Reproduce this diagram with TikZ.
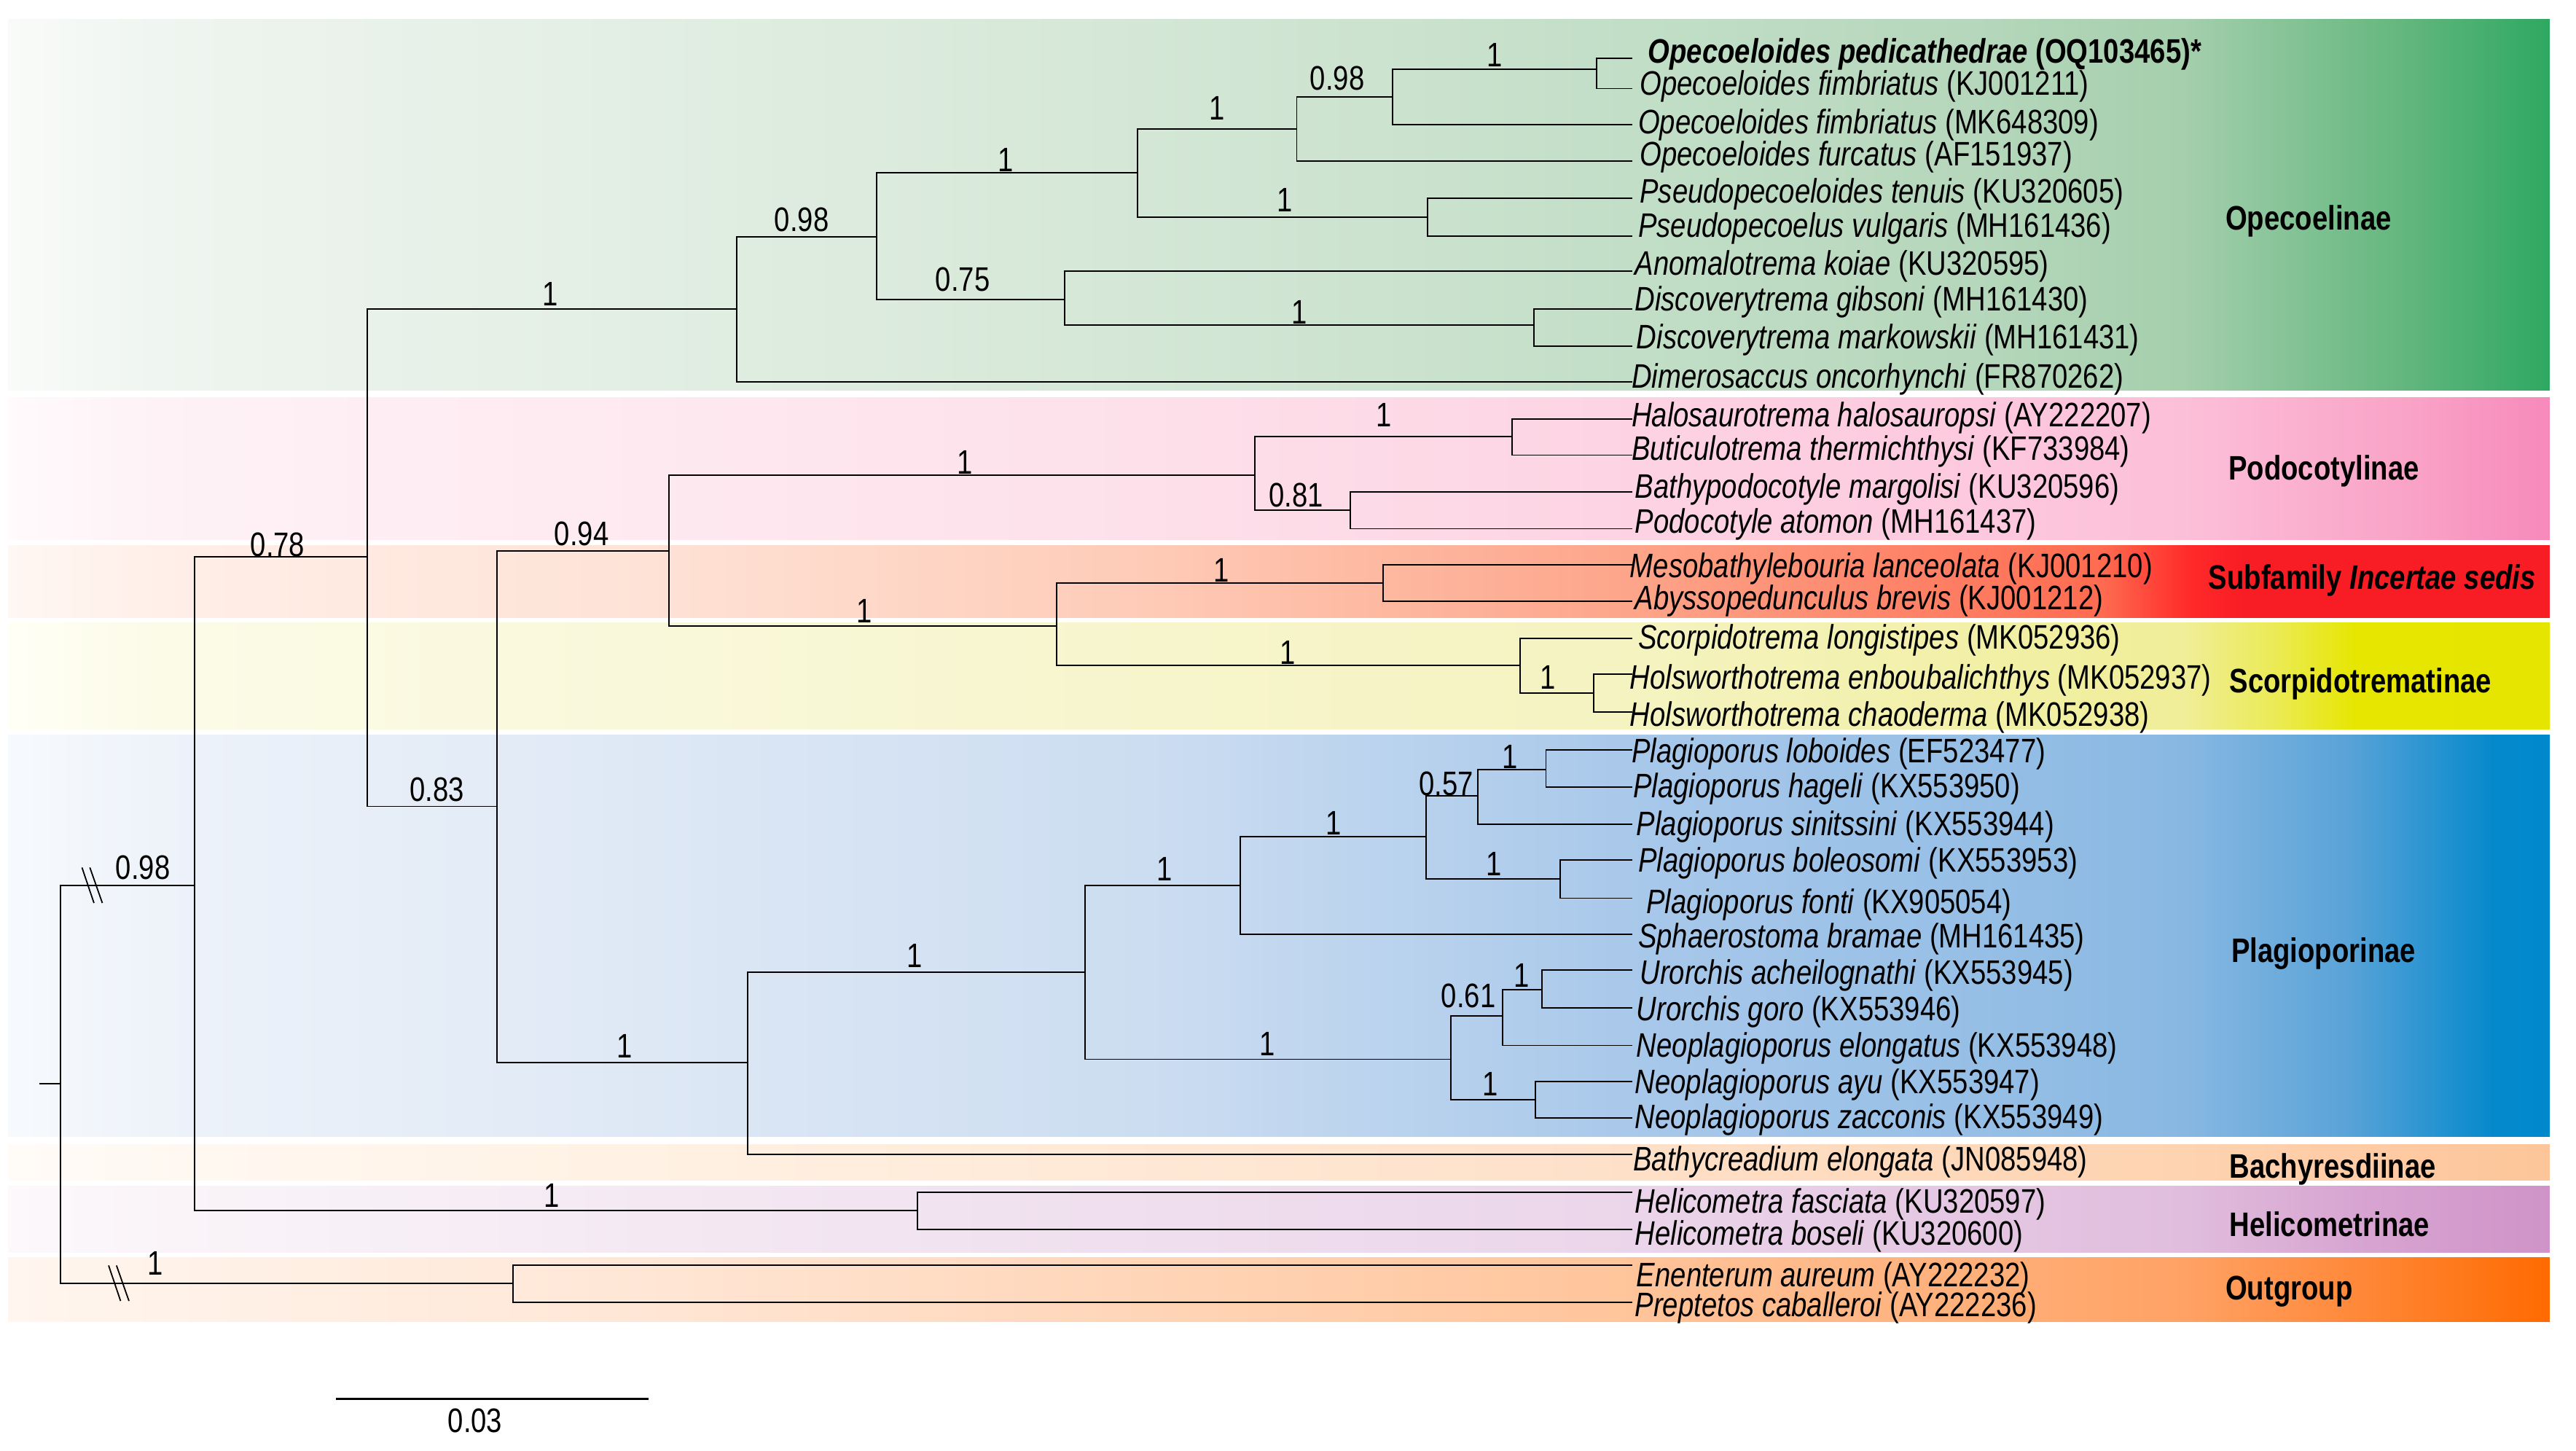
\documentclass[tikz,border=0pt]{standalone}
\usepackage{fontspec}
\setmainfont{Liberation Sans}[FakeStretch=0.82]
% band colours
\definecolor{gA}{HTML}{F9FBF9}\definecolor{gB}{HTML}{EFF5F0}\definecolor{gC}{HTML}{E2EEE3}
\definecolor{gD}{HTML}{D4E7D6}\definecolor{gE}{HTML}{C2DEC7}\definecolor{gF}{HTML}{B6D7BC}
\definecolor{gG}{HTML}{A5CFAD}\definecolor{gH}{HTML}{62B67D}\definecolor{gI}{HTML}{2EA862}
\definecolor{pA}{HTML}{FFFAFC}\definecolor{pB}{HTML}{FEF2F6}\definecolor{pC}{HTML}{FEE9F0}
\definecolor{pD}{HTML}{FDE0EA}\definecolor{pE}{HTML}{FDD3E3}\definecolor{pF}{HTML}{FDC9DE}
\definecolor{pG}{HTML}{FCBFD8}\definecolor{pH}{HTML}{F9A3C7}\definecolor{pI}{HTML}{F78ABB}
\definecolor{rA}{HTML}{FFF7F3}\definecolor{rB}{HTML}{FFEFE8}\definecolor{rC}{HTML}{FEE2D6}
\definecolor{rD}{HTML}{FECBB7}\definecolor{rE}{HTML}{FDA489}\definecolor{rF}{HTML}{FE6B50}
\definecolor{rG}{HTML}{FF2A2A}\definecolor{rH}{HTML}{F81C24}
\definecolor{yA}{HTML}{FFFFF6}\definecolor{yB}{HTML}{FCFBE8}\definecolor{yC}{HTML}{F9F8DA}
\definecolor{yD}{HTML}{F7F5CC}\definecolor{yE}{HTML}{F5F3C0}\definecolor{yG}{HTML}{F0EE98}
\definecolor{yH}{HTML}{EBEA55}\definecolor{yI}{HTML}{E6E600}\definecolor{yJ}{HTML}{E5E500}
\definecolor{bA}{HTML}{F7FAFD}\definecolor{bB}{HTML}{EEF3FA}\definecolor{bC}{HTML}{DEE8F5}
\definecolor{bD}{HTML}{CCDDF1}\definecolor{bE}{HTML}{A8C8EA}\definecolor{bF}{HTML}{97BFE6}
\definecolor{bG}{HTML}{88B8E2}\definecolor{bH}{HTML}{5AA3D8}\definecolor{bI}{HTML}{0589CC}
\definecolor{bJ}{HTML}{0088CC}
\definecolor{cA}{HTML}{FFFBF7}\definecolor{cC}{HTML}{FFF1E3}\definecolor{cE}{HTML}{FEE0C8}
\definecolor{cG}{HTML}{FED3B0}\definecolor{cH}{HTML}{FECCA6}\definecolor{cJ}{HTML}{FDC599}
\definecolor{hA}{HTML}{FCF8FB}\definecolor{hC}{HTML}{F4E9F3}\definecolor{hE}{HTML}{EBD5EA}
\definecolor{hG}{HTML}{E0BDDD}\definecolor{hH}{HTML}{D8A6D2}\definecolor{hJ}{HTML}{CF93C8}
\definecolor{oA}{HTML}{FFF6EF}\definecolor{oC}{HTML}{FFE6D5}\definecolor{oE}{HTML}{FFC49A}
\definecolor{oG}{HTML}{FFA265}\definecolor{oH}{HTML}{FF8A3C}\definecolor{oJ}{HTML}{FF6A00}
% shadings: path box maps to 25bp..75bp
\pgfdeclarehorizontalshading{bgreen}{100bp}{color(0bp)=(gA); color(25bp)=(gA); color(27.9bp)=(gB); color(37.6bp)=(gC); color(47.4bp)=(gD); color(57.1bp)=(gE); color(63.6bp)=(gF); color(67.8bp)=(gG); color(72.2bp)=(gH); color(75bp)=(gI); color(100bp)=(gI)}
\pgfdeclarehorizontalshading{bpink}{100bp}{color(0bp)=(pA); color(25bp)=(pA); color(27.9bp)=(pB); color(37.6bp)=(pC); color(47.4bp)=(pD); color(57.1bp)=(pE); color(63.6bp)=(pF); color(67.8bp)=(pG); color(72.2bp)=(pH); color(75bp)=(pI); color(100bp)=(pI)}
\pgfdeclarehorizontalshading{bred}{100bp}{color(0bp)=(rA); color(25bp)=(rA); color(27.9bp)=(rB); color(37.6bp)=(rC); color(47.4bp)=(rD); color(57.1bp)=(rE); color(66.2bp)=(rF); color(67.9bp)=(rG); color(69bp)=(rH); color(75bp)=(rH); color(100bp)=(rH)}
\pgfdeclarehorizontalshading{byellow}{100bp}{color(0bp)=(yA); color(25bp)=(yA); color(27.9bp)=(yB); color(37.6bp)=(yC); color(47.4bp)=(yD); color(57.1bp)=(yE); color(67.8bp)=(yG); color(69.6bp)=(yH); color(71.2bp)=(yI); color(75bp)=(yJ); color(100bp)=(yJ)}
\pgfdeclarehorizontalshading{bblue}{100bp}{color(0bp)=(bA); color(25bp)=(bA); color(27.9bp)=(bB); color(37.6bp)=(bC); color(47.4bp)=(bD); color(57.1bp)=(bE); color(63.6bp)=(bF); color(67.8bp)=(bG); color(71bp)=(bH); color(73.9bp)=(bI); color(75bp)=(bJ); color(100bp)=(bJ)}
\pgfdeclarehorizontalshading{bbachy}{100bp}{color(0bp)=(cA); color(25bp)=(cA); color(37.6bp)=(cC); color(57.1bp)=(cE); color(67.8bp)=(cG); color(71bp)=(cH); color(75bp)=(cJ); color(100bp)=(cJ)}
\pgfdeclarehorizontalshading{bhelico}{100bp}{color(0bp)=(hA); color(25bp)=(hA); color(37.6bp)=(hC); color(57.1bp)=(hE); color(67.8bp)=(hG); color(71bp)=(hH); color(75bp)=(hJ); color(100bp)=(hJ)}
\pgfdeclarehorizontalshading{bout}{100bp}{color(0bp)=(oA); color(25bp)=(oA); color(37.6bp)=(oC); color(57.1bp)=(oE); color(67.8bp)=(oG); color(71bp)=(oH); color(75bp)=(oJ); color(100bp)=(oJ)}
\newcommand\tipsize{\fontsize{20.7}{24}\selectfont}
\begin{document}
\begin{tikzpicture}[x=1pt,y=-1pt,
  br/.style={line width=0.85pt, line join=miter},
  tip/.style={anchor=base west, inner sep=0pt, font=\tipsize},
  sup/.style={anchor=base, inner sep=0pt, font=\tipsize},
  clade/.style={anchor=base west, inner sep=0pt, font=\tipsize\bfseries}]
\fill[white] (0,0) rectangle (1568,882.7);
\useasboundingbox (0,0) rectangle (1568,882.7);
% ---- bands ----
\shade[shading=bgreen]  (5,11.9)  rectangle (1552,237.6);
\shade[shading=bpink]   (5,242)   rectangle (1552,328.6);
\shade[shading=bred]    (5,332)   rectangle (1552,375.8);
\shade[shading=byellow] (5,379)   rectangle (1552,443.6);
\shade[shading=bblue]   (5,447.4) rectangle (1552,691.6);
\shade[shading=bbachy]  (5,696.4) rectangle (1552,718.3);
\shade[shading=bhelico] (5,722)   rectangle (1552,762.2);
\shade[shading=bout]    (5,765.4) rectangle (1552,804.3);
% ---- clade names ----
\node[clade] (cOp)  at (1354.5,140)   {Opecoelinae};
\node[clade] (cPo)  at (1356.3,292)   {Podocotylinae};
\node[clade] (cIn)  at (1344.2,358.8) {Subfamily \textit{Incertae sedis}};
\node[clade] (cSc)  at (1357,421.4)   {Scorpidotrematinae};
\node[clade] (cPl)  at (1358,585.5)   {Plagioporinae};
\node[clade] (cBa)  at (1357,717.1)   {Bachyresdiinae};
\node[clade] (cHe)  at (1357,752.6)   {Helicometrinae};
\node[clade] (cOu)  at (1354.5,791)   {Outgroup};
% ---- internal nodes ----
\coordinate (R0) at (23.8,659.4);
\coordinate (R) at (37,659.4);
\coordinate (n098) at (118.4,538.8);
\coordinate (nOG) at (312.2,781);
\coordinate (n078) at (223.4,338.8);
\coordinate (nHel) at (558.6,736.8);
\coordinate (nOp) at (448.4,188.2);
\coordinate (n083) at (302.4,490.8);
\coordinate (nOp098) at (533.6,144.2);
\coordinate (nOp1) at (692.2,105.3);
\coordinate (nOp075) at (648,182.2);
\coordinate (nOp1a) at (789.3,78.4);
\coordinate (nPs) at (869,132.2);
\coordinate (nOp098b) at (847.6,59.1);
\coordinate (nOpc) at (972,42.3);
\coordinate (nDisc) at (933.7,198);
\coordinate (n094) at (407,335.2);
\coordinate (nPl1) at (455,646.9);
\coordinate (nPodo) at (764,289);
\coordinate (nInc) at (643.3,381.1);
\coordinate (nHalo) at (920.4,265.5);
\coordinate (nPod081) at (821.8,310.6);
\coordinate (nMeso) at (842,354.8);
\coordinate (nScorp) at (925.3,405);
\coordinate (nHols) at (970,421.8);
\coordinate (nPl2) at (660.6,591.7);
\coordinate (nPl3) at (754.9,539.1);
\coordinate (nNeo) at (883.1,644.7);
\coordinate (nPl4) at (868,509.4);
\coordinate (nPl057) at (899.4,484.4);
\coordinate (nPllh) at (941,468.3);
\coordinate (nPlbf) at (949.7,534.8);
\coordinate (nNeo061) at (914.8,618.4);
\coordinate (nUro) at (938.6,602.2);
\coordinate (nNeoaz) at (934.6,669.4);
% ---- tips ----
\foreach \i/\y in {1/35.5,2/53.9,3/76,4/98.2,5/120.7,6/143.7,7/165.2,8/187.9,9/210.7,10/232.6,
  11/255,12/277,13/299.5,14/321.8,15/343.6,16/366,17/388.7,18/410.4,19/433.2,
  20/456.4,21/479.2,22/501.7,23/523.3,24/546.7,25/568.8,26/590.5,27/613.3,28/636.3,29/658.4,30/680.6,
  31/702.7,32/725.6,33/748.2,34/770.2,35/792.8}
  {\coordinate (t\i) at (993.6,\y);}
\node[tip] (L1) at (1003,38.4) {\textbf{\textit{Opecoeloides pedicathedrae} (OQ103465)*}};
\node[tip] (L2) at (998,57.7) {\textit{Opecoeloides fimbriatus} (KJ001211)};
\node[tip] (L3) at (997,81.5) {\textit{Opecoeloides fimbriatus} (MK648309)};
\node[tip] (L4) at (998,100.9) {\textit{Opecoeloides furcatus} (AF151937)};
\node[tip] (L5) at (998,123.4) {\textit{Pseudopecoeloides tenuis} (KU320605)};
\node[tip] (L6) at (997,144.4) {\textit{Pseudopecoelus vulgaris} (MH161436)};
\node[tip] (L7) at (995,167.4) {\textit{Anomalotrema koiae} (KU320595)};
\node[tip] (L8) at (995,189.2) {\textit{Discoverytrema gibsoni} (MH161430)};
\node[tip] (L9) at (996,212.4) {\textit{Discoverytrema markowskii} (MH161431)};
\node[tip] (L10) at (993,236.4) {\textit{Dimerosaccus oncorhynchi} (FR870262)};
\node[tip] (L11) at (993,259.5) {\textit{Halosaurotrema halosauropsi} (AY222207)};
\node[tip] (L12) at (993,280.2) {\textit{Buticulotrema thermichthysi} (KF733984)};
\node[tip] (L13) at (995,303.1) {\textit{Bathypodocotyle margolisi} (KU320596)};
\node[tip] (L14) at (995,324.5) {\textit{Podocotyle atomon} (MH161437)};
\node[tip] (L15) at (992,351.5) {\textit{Mesobathylebouria lanceolata} (KJ001210)};
\node[tip] (L16) at (995,371.1) {\textit{Abyssopedunculus brevis} (KJ001212)};
\node[tip] (L17) at (997,394.8) {\textit{Scorpidotrema longistipes} (MK052936)};
\node[tip] (L18) at (992,419.5) {\textit{Holsworthotrema enboubalichthys} (MK052937)};
\node[tip] (L19) at (992,442.1) {\textit{Holsworthotrema chaoderma} (MK052938)};
\node[tip] (L20) at (993,464.2) {\textit{Plagioporus loboides} (EF523477)};
\node[tip] (L21) at (994,485.4) {\textit{Plagioporus hageli} (KX553950)};
\node[tip] (L22) at (996,508.7) {\textit{Plagioporus sinitssini} (KX553944)};
\node[tip] (L23) at (997,530.8) {\textit{Plagioporus boleosomi} (KX553953)};
\node[tip] (L24) at (1002,555.8) {\textit{Plagioporus fonti} (KX905054)};
\node[tip] (L25) at (997,577) {\textit{Sphaerostoma bramae} (MH161435)};
\node[tip] (L26) at (998,599.1) {\textit{Urorchis acheilognathi} (KX553945)};
\node[tip] (L27) at (996,621.2) {\textit{Urorchis goro} (KX553946)};
\node[tip] (L28) at (996,643.2) {\textit{Neoplagioporus elongatus} (KX553948)};
\node[tip] (L29) at (995,665.7) {\textit{Neoplagioporus ayu} (KX553947)};
\node[tip] (L30) at (995,686.9) {\textit{Neoplagioporus zacconis} (KX553949)};
\node[tip] (L31) at (994,712.4) {\textit{Bathycreadium elongata} (JN085948)};
\node[tip] (L32) at (995,738.1) {\textit{Helicometra fasciata} (KU320597)};
\node[tip] (L33) at (995,758) {\textit{Helicometra boseli} (KU320600)};
\node[tip] (L34) at (996,783.3) {\textit{Enenterum aureum} (AY222232)};
\node[tip] (L35) at (995,801.4) {\textit{Preptetos caballeroi} (AY222236)};
% ---- branches ----
\draw[br] (R0) -- (R);
\draw[br] (R) |- (n098) (R) |- (nOG);
\draw[br] (n098) |- (n078) (n098) |- (nHel);
\draw[br] (nHel) |- (t32) (nHel) |- (t33);
\draw[br] (nOG) |- (t34) (nOG) |- (t35);
\draw[br] (n078) |- (nOp) (n078) |- (n083);
\draw[br] (nOp) |- (nOp098) (nOp) |- (t10);
\draw[br] (nOp098) |- (nOp1) (nOp098) |- (nOp075);
\draw[br] (nOp1) |- (nOp1a) (nOp1) |- (nPs);
\draw[br] (nOp1a) |- (nOp098b) (nOp1a) |- (t4);
\draw[br] (nOp098b) |- (nOpc) (nOp098b) |- (t3);
\draw[br] (nOpc) |- (t1) (nOpc) |- (t2);
\draw[br] (nPs) |- (t5) (nPs) |- (t6);
\draw[br] (nOp075) |- (t7) (nOp075) |- (nDisc);
\draw[br] (nDisc) |- (t8) (nDisc) |- (t9);
\draw[br] (n083) |- (n094) (n083) |- (nPl1);
\draw[br] (n094) |- (nPodo) (n094) |- (nInc);
\draw[br] (nPodo) |- (nHalo) (nPodo) |- (nPod081);
\draw[br] (nHalo) |- (t11) (nHalo) |- (t12);
\draw[br] (nPod081) |- (t13) (nPod081) |- (t14);
\draw[br] (nInc) |- (nMeso) (nInc) |- (nScorp);
\draw[br] (nMeso) |- (t15) (nMeso) |- (t16);
\draw[br] (nScorp) |- (t17) (nScorp) |- (nHols);
\draw[br] (nHols) |- (t18) (nHols) |- (t19);
\draw[br] (nPl1) |- (nPl2) (nPl1) |- (t31);
\draw[br] (nPl2) |- (nPl3) (nPl2) |- (nNeo);
\draw[br] (nPl3) |- (nPl4) (nPl3) |- (t25);
\draw[br] (nPl4) |- (nPl057) (nPl4) |- (nPlbf);
\draw[br] (nPl057) |- (nPllh) (nPl057) |- (t22);
\draw[br] (nPllh) |- (t20) (nPllh) |- (t21);
\draw[br] (nPlbf) |- (t23) (nPlbf) |- (t24);
\draw[br] (nNeo) |- (nNeo061) (nNeo) |- (nNeoaz);
\draw[br] (nNeo061) |- (nUro) (nNeo061) |- (t28);
\draw[br] (nUro) |- (t26) (nUro) |- (t27);
\draw[br] (nNeoaz) |- (t29) (nNeoaz) |- (t30);
% ---- break marks ----
\coordinate (bk1) at (56,538.8);
\coordinate (bk2) at (72.2,781);
\foreach \b in {bk1,bk2}{
  \draw[line width=0.8pt] ([shift={(-6.1,-10.8)}]\b) -- ([shift={(1.2,10.8)}]\b);
  \draw[line width=0.8pt] ([shift={(-1.3,-10.8)}]\b) -- ([shift={(6.3,10.8)}]\b);
}
% ---- support values ----
\node[sup] (s1) at (87,535) {0.98};
\node[sup] (s2) at (94.5,776) {1};
\node[sup] (s3) at (169,338.5) {0.78};
\node[sup] (s4) at (336,734.8) {1};
\node[sup] (s5) at (335,186) {1};
\node[sup] (s6) at (266,487.8) {0.83};
\node[sup] (s7) at (488,141) {0.98};
\node[sup] (s8) at (612,104.5) {1};
\node[sup] (s9) at (586,177.4) {0.75};
\node[sup] (s10) at (740.7,72.9) {1};
\node[sup] (s11) at (782,129) {1};
\node[sup] (s12) at (814,54.6) {0.98};
\node[sup] (s13) at (909.8,40.4) {1};
\node[sup] (s14) at (791,197.2) {1};
\node[sup] (s15) at (354,332) {0.94};
\node[sup] (s16) at (380,644) {1};
\node[sup] (s17) at (587.5,288.6) {1};
\node[sup] (s18) at (526,379.2) {1};
\node[sup] (s19) at (842.5,259.9) {1};
\node[sup] (s20) at (789,308.3) {0.81};
\node[sup] (s21) at (743.4,354.1) {1};
\node[sup] (s22) at (784,404.4) {1};
\node[sup] (s23) at (942,419.6) {1};
\node[sup] (s24) at (556.8,589) {1};
\node[sup] (s25) at (708.9,536) {1};
\node[sup] (s26) at (771.5,642.6) {1};
\node[sup] (s27) at (811.8,508) {1};
\node[sup] (s28) at (880.4,484) {0.57};
\node[sup] (s29) at (919,467.8) {1};
\node[sup] (s30) at (909.3,533) {1};
\node[sup] (s31) at (893.8,613) {0.61};
\node[sup] (s32) at (926,601) {1};
\node[sup] (s33) at (907.3,666.9) {1};
% ---- scale bar ----
\coordinate (sbL) at (204.7,851.6);
\coordinate (sbR) at (394.7,851.6);
\draw[line width=1.3pt] (sbL) -- (sbR);
\node[sup] (sbT) at (289.2,871.6) {0.03};
\end{tikzpicture}
\end{document}
